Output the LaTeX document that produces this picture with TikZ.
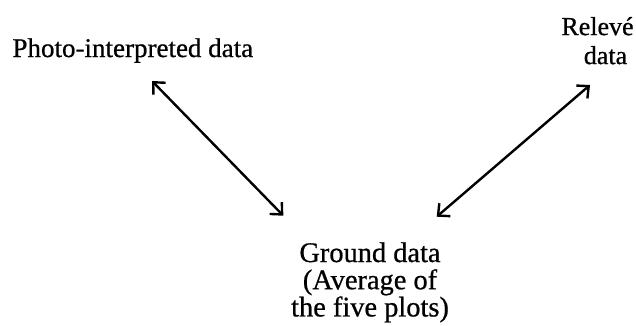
\documentclass[tikz,border=0pt]{standalone}
\usepackage{fontspec}
\setmainfont[FakeBold=0.7,BoldFont={Liberation Serif}]{Liberation Serif}
\usetikzlibrary{arrows.meta}
\begin{document}
\begin{tikzpicture}[x=1pt,y=-1pt,
  label/.style={inner sep=0pt,outer sep=0pt,align=center,font=\bfseries},
  link/.style={line width=2.4pt,line cap=round,
    {Straight Barb[length=9pt,width=17pt,line width=2.4pt]}-{Straight Barb[length=9pt,width=17pt,line width=2.4pt]}}]
  \useasboundingbox (0,0) rectangle (636,325);

  % the three data sources
  \node[label,anchor=base west,font=\fontsize{27}{29}\selectfont\bfseries] (photo) at (12.5,57) {Photo-interpreted data};
  \node[label,anchor=north,font=\fontsize{26}{29}\selectfont\bfseries] (releve) at (597.5,17) {Relevé\\\hspace*{16pt}data};
  \node[label,anchor=north,font=\fontsize{28.4}{27.2}\selectfont\bfseries] (ground) at (370,242.3) {Ground data\\(Average of\\the five plots)};

  % comparisons between sources
  \draw[link] ([shift={(139.5,24)}]photo.base west) -- ([shift={(-86.7,-26.6)}]ground.north);
  \draw[link] ([shift={(-7.5,68)}]releve.north) -- ([shift={(66.7,-25.6)}]ground.north);
\end{tikzpicture}
\end{document}
